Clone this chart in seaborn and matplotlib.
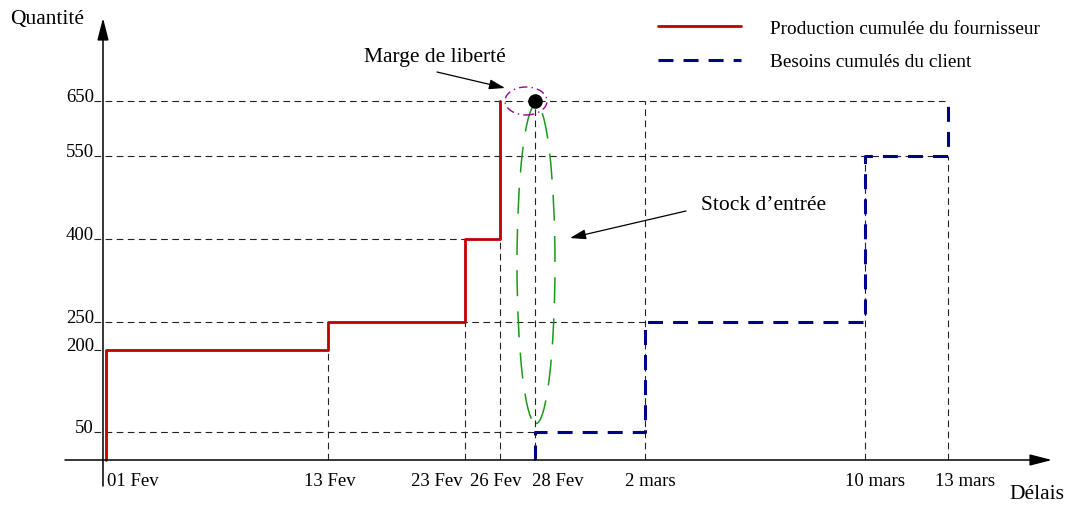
import numpy as np
import pandas as pd
import matplotlib.pyplot as plt
import seaborn as sns
from matplotlib.patches import Ellipse

sns.set_style("white")
plt.rcParams["font.family"] = ["Liberation Serif", "DejaVu Serif"]
plt.rcParams["text.color"] = "black"

# schematic positions of the dates on the time axis (diagram is not to scale)
dates = ["01 Fev", "13 Fev", "23 Fev", "26 Fev", "28 Fev", "2 mars", "10 mars", "13 mars"]
date_x = [106, 328, 465, 500, 535, 645, 865, 948]
label_x = [133, 330, 437, 496, 558, 650, 875, 965]

levels = [650, 550, 400, 250, 200, 50]
level_end = ["13 mars", "13 mars", "23 Fev", "2 mars", "01 Fev", "28 Fev"]

vline_dates = ["13 Fev", "23 Fev", "26 Fev", "28 Fev", "2 mars", "10 mars", "13 mars"]
vline_top = [250, 250, 400, 650, 650, 550, 550]

prod_dates = ["01 Fev", "13 Fev", "23 Fev", "26 Fev"]
prod_cum = [200, 250, 400, 650]

need_dates = ["28 Fev", "2 mars", "10 mars", "13 mars"]
need_cum = [50, 250, 550, 650]

RED = "#c00000"
BLUE = "#00008c"
xpos = dict(zip(dates, date_x))

# pixel scale of the quantity axis
PX = 359 / 650


def v(py):
    """quantity value at pixel row py"""
    return (461 - py) / PX


def steps(ds, vals):
    px, py, prev = [], [], 0
    for d, val in zip(ds, vals):
        px += [xpos[d], xpos[d]]
        py += [prev, val]
        prev = val
    return pd.DataFrame({"x": px, "y": py})


fig = plt.figure(figsize=(10.68, 5.06), dpi=100)
ax = fig.add_axes([0, 0, 1, 1])
ax.set_xlim(0, 1068)
ax.set_ylim(v(506), v(0))
ax.axis("off")

# guide lines
gkw = dict(color="#222222", lw=0.8, linestyle=(0, (6, 4)), zorder=1)
for lv, end in zip(levels, level_end):
    ax.plot([94, xpos[end]], [lv, lv], **gkw)
for d, top in zip(vline_dates, vline_top):
    ax.plot([xpos[d], xpos[d]], [0, top], **gkw)

# step curves
prod = steps(prod_dates, prod_cum)
need = steps(need_dates, need_cum)
sns.lineplot(data=prod, x="x", y="y", sort=False, estimator=None, ax=ax,
             color=RED, lw=2.0, zorder=3, label="Production cumulée du fournisseur")
sns.lineplot(data=need, x="x", y="y", sort=False, estimator=None, ax=ax,
             color=BLUE, lw=2.2, linestyle=(0, (4.9, 3.3)), zorder=3,
             label="Besoins cumulés du client")

# axes with arrows
akw = dict(arrowstyle="-|>,head_length=0.9,head_width=0.23", color="black",
           lw=1.1, mutation_scale=15, shrinkA=0, shrinkB=0)
ax.annotate("", xy=(1052, 0), xytext=(65, 0), arrowprops=akw, zorder=4)
ax.annotate("", xy=(103, v(19)), xytext=(103, v(487)), arrowprops=akw, zorder=4)

# tick labels
for lv in levels:
    ax.text(94, lv, str(lv), ha="right", va="baseline", fontsize=13.5)
for d, lx in zip(dates, label_x):
    ax.text(lx, v(482), d, ha="center", va="center", fontsize=13.5)

ax.text(47, v(20), "Quantité", ha="center", va="center", fontsize=15.5)
ax.text(1037, v(495), "Délais", ha="center", va="center", fontsize=15.5)

pkw = dict(arrowstyle="-|>,head_length=0.8,head_width=0.25", color="black",
           lw=0.9, mutation_scale=12, shrinkA=0, shrinkB=0)

# marge de liberte
ax.add_patch(Ellipse((526, 650), 42, 28 / PX, fill=False, edgecolor="#990099",
                     lw=1.0, linestyle=(0, (6, 3, 1, 3)), zorder=4))
sns.scatterplot(x=[xpos["28 Fev"]], y=[650], s=110, color="black",
                linewidth=0, ax=ax, zorder=5)
ax.text(435, v(58), "Marge de liberté", ha="center", va="center", fontsize=15.5)
ax.annotate("", xy=(505, v(89)), xytext=(437, v(73)), arrowprops=pkw)

# stock d'entree
ax.add_patch(Ellipse((536, v(265)), 38, 319 / PX, fill=False, edgecolor="#1a9a1a",
                     lw=1.1, linestyle=(0, (17, 10)), zorder=2))
ax.text(764, v(206), "Stock d’entrée", ha="center", va="center", fontsize=15.5)
ax.annotate("", xy=(570, v(239)), xytext=(686, v(212)), arrowprops=pkw)

ax.legend(loc="upper left", bbox_to_anchor=(658 / 1068, 1 - 20 / 506),
          frameon=False, fontsize=13.9, handlelength=4.3, handletextpad=1.5,
          labelspacing=0.85, borderpad=0, borderaxespad=0)

plt.savefig("out.png", dpi=100)
